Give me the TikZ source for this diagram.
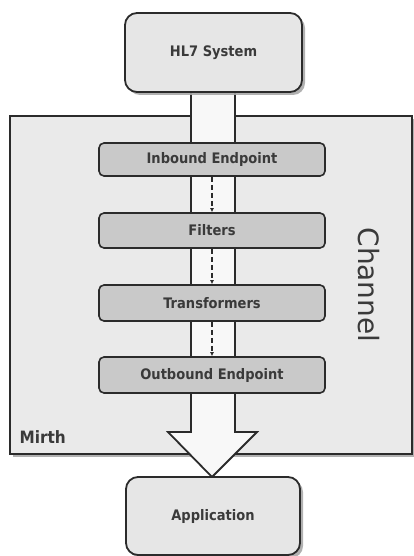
\documentclass[tikz,border=0pt]{standalone}
\usepackage{fontspec}
\setmainfont{DejaVu Sans}
\newfontfamily\lblfont[FakeStretch=0.9]{DejaVu Sans}
\usetikzlibrary{shadows,arrows.meta}
\definecolor{edgec}{HTML}{2B2B2B}
\definecolor{txtc}{HTML}{3A3A3A}
\definecolor{bgc}{HTML}{EAEAEA}
\definecolor{endc}{HTML}{E6E6E6}
\definecolor{stepc}{HTML}{C9C9C9}
\definecolor{shaftc}{HTML}{F8F8F8}
\definecolor{shadc}{HTML}{A8A8A8}
\begin{document}
\begin{tikzpicture}[x=1pt,y=-1pt,
  shad/.style={drop shadow={shadow xshift=3pt,shadow yshift=-3pt,fill=shadc,opacity=0.9}},
  endbox/.style={draw=edgec,line width=1.8pt,fill=endc,rounded corners=12pt,shad,
    font=\lblfont\bfseries\fontsize{14.5}{16}\selectfont,text=txtc},
  stepbox/.style={draw=edgec,line width=1.6pt,fill=stepc,rounded corners=5pt,
    minimum width=226pt,font=\lblfont\bfseries\fontsize{14.5}{16}\selectfont,text=txtc},
  flow/.style={draw=edgec,line width=1.3pt,dash pattern=on 5pt off 3pt,-{Latex[length=4pt,width=4pt]}}]
\useasboundingbox (0,0) rectangle (414,556);
% Mirth container
\node[draw=edgec,line width=1.6pt,fill=bgc,shad,minimum width=402pt,minimum height=338pt,anchor=north west,inner sep=0pt] (mirth) at (9,115) {};
\node[anchor=base west,font=\lblfont\bfseries\fontsize{17}{19}\selectfont,text=txtc] (mirthlbl) at (16,443) {Mirth};
\node[rotate=-90,font=\fontsize{28}{30}\selectfont,text=txtc] (chan) at (369,285) {Channel};
% big flow arrow
\coordinate (sl) at (191,92);
\coordinate (sr) at (235,92);
\coordinate (tip) at (212,477);
\draw[edgec,line width=1.8pt,fill=shaftc,line join=miter]
  (sl) -- (191,432) -- (168,432) -- (tip) -- (257,432) -- (235,432) -- (sr);
% end systems
\node[endbox,minimum width=177pt,minimum height=79pt] (hl7) at (213.5,52.5) {HL7 System};
\node[endbox,minimum width=174pt,minimum height=78pt] (app) at (213,516) {Application};
% steps
\node[stepbox,minimum height=33pt] (inb) at (212,159.5) {Inbound Endpoint};
\node[stepbox,minimum height=35pt] (fil) at (212,230.5) {Filters};
\node[stepbox,minimum height=36pt] (tra) at (212,303) {Transformers};
\node[stepbox,minimum height=36pt] (outb) at (212,375) {Outbound Endpoint};
\draw[flow] (inb.south) -- (fil.north);
\draw[flow] (fil.south) -- (tra.north);
\draw[flow] (tra.south) -- (outb.north);
\end{tikzpicture}
\end{document}
